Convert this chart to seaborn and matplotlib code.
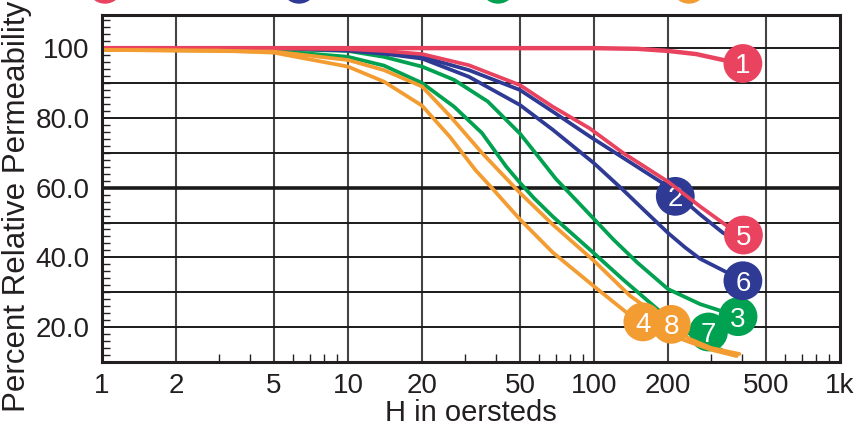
import numpy as np
import pandas as pd
import matplotlib
matplotlib.use("Agg")
import matplotlib.pyplot as plt
from matplotlib.ticker import FixedLocator, LogLocator, MultipleLocator, NullFormatter
from matplotlib.patches import Ellipse
import seaborn as sns

# ---------------- data ----------------
h1 = [1, 100, 150, 200, 260, 335, 400]
y1 = [100, 100, 99.8, 99.2, 98.3, 96.6, 95.6]

h5 = [1, 5, 10, 14, 20, 31, 50, 68, 96, 131, 200, 270, 340, 400]
y5 = [100, 100, 99.7, 99.2, 98.3, 95.1, 89.4, 83.2, 77, 70, 61.7, 54.6, 49.5, 46]

h2 = [1, 5, 10, 14, 20, 31, 50, 68, 96, 131, 200, 270, 335, 380]
y2 = [100, 100, 99.5, 98.7, 97.5, 93.7, 88, 81.8, 74.7, 68.6, 60.3, 52.3, 47, 45]

h6 = [1, 5, 10, 14, 20, 31, 50, 68, 100, 131, 160, 200, 235, 270, 347, 400]
y6 = [100, 100, 99.3, 98.4, 97, 91.8, 83.7, 76.6, 67, 59.4, 53.5, 47, 42.8, 39.6, 35.7, 33.3]

h3 = [1, 5, 10, 14, 20, 27, 37, 50, 60, 70, 100, 120, 150, 200, 270, 330, 385]
y3 = [100, 99.8, 99.2, 97.5, 94.7, 90.9, 84.7, 75.5, 68.5, 62.5, 51, 45.1, 38.5, 30.9, 26.6, 24.6, 23]

h7 = [1, 5, 10, 14, 20, 27, 35, 44, 50, 57, 68, 96, 131, 185, 240, 300, 330]
y7 = [99.5, 99.3, 97.5, 95, 90, 83.2, 75.7, 66, 61.4, 57, 51.7, 42.3, 33.7, 24.6, 18.5, 14.5, 13.5]

h8 = [1, 5, 10, 14, 20, 26, 35, 50, 68, 100, 140, 180, 207, 245, 300, 390]
y8 = [99.5, 99, 96.6, 93.7, 89, 80.5, 70, 58.5, 49.4, 39, 29, 23.5, 20.3, 16.6, 14, 12.3]

h4 = [1, 3, 5, 10, 14, 20, 26, 33, 38, 50, 68, 100, 135, 160, 200, 245, 300, 380]
y4 = [99.5, 99.3, 98.7, 94.7, 90.4, 83.5, 74.5, 65, 60.3, 50.9, 41.4, 31.7, 24.3, 21, 18, 15.7, 13.5, 11.7]

labels = ["1", "2", "3", "4", "5", "6", "7", "8"]
label_h = [403, 214, 385, 158, 405, 403, 292, 206]
label_y = [95.6, 57.5, 23.0, 21.5, 46.4, 33.3, 18.6, 20.8]

x_ticks = [1, 2, 5, 10, 20, 50, 100, 200, 500, 1000]
x_ticklabels = ["1", "2", "5", "10", "20", "50", "100", "200", "500", "1k"]
y_ticks = [20, 40, 60, 80, 100]
y_ticklabels = ["20.0", "40.0", "60.0", "80.0", "100"]

RED, BLUE, GREEN, ORANGE = "#E9435F", "#2E3A94", "#00A150", "#F39C32"
curve_color = {"1": RED, "5": RED, "2": BLUE, "6": BLUE,
               "3": GREEN, "7": GREEN, "4": ORANGE, "8": ORANGE}

curves = {"1": (h1, y1), "2": (h2, y2), "3": (h3, y3), "4": (h4, y4),
          "5": (h5, y5), "6": (h6, y6), "7": (h7, y7), "8": (h8, y8)}

frames = []
for k, (hh, yy) in curves.items():
    frames.append(pd.DataFrame({"H": hh, "P": yy, "curve": k}))
df = pd.concat(frames, ignore_index=True)

# ---------------- style ----------------
sns.set_theme(style="white")
plt.rcParams["font.family"] = ["Liberation Sans", "DejaVu Sans"]

W, H = 863, 426
fig = plt.figure(figsize=(W / 100, H / 100), dpi=100)
ax = fig.add_axes([102 / W, 1 - 362 / H, (840 - 102) / W, (362 - 15) / H])

ax.set_xscale("log")
ax.set_xlim(1, 1000)
ax.set_ylim(10, 109.5)

# grid
for xv in x_ticks[1:-1]:
    ax.axvline(xv, color="#444444", lw=1.5, zorder=1)
for yv in range(20, 110, 10):
    ax.axhline(yv, color="#1a1a1a", lw=2.6 if yv == 60 else 1.4, zorder=1)

def draw(keys, z, lw=2.7):
    sub = df[df["curve"].isin(keys)]
    sns.lineplot(data=sub, x="H", y="P", hue="curve", units="curve",
                 estimator=None, sort=False, palette=curve_color,
                 linewidth=lw, legend=False, ax=ax, zorder=z)

def mark(k, z):
    i = labels.index(k)
    ax.scatter([label_h[i]], [label_y[i]], s=780, color=curve_color[k],
               edgecolors="none", zorder=z)
    ax.text(label_h[i], label_y[i], k, color="white", fontsize=20,
            ha="center", va="center_baseline", zorder=z + 0.1)

draw(["3", "7", "2", "6"], 2)
mark("2", 3)
draw(["5"], 3.5)
draw(["1"], 3.6, lw=3.2)
mark("7", 4)
mark("3", 4.2)
draw(["4", "8"], 4.5)
mark("4", 5)
mark("8", 5.2)
mark("6", 5.4)
mark("5", 5.6)
mark("1", 5.8)

# ticks
ax.xaxis.set_major_locator(FixedLocator(x_ticks))
ax.set_xticklabels(x_ticklabels)
ax.xaxis.set_minor_locator(LogLocator(base=10, subs=[3, 4, 6, 7, 8, 9]))
ax.xaxis.set_minor_formatter(NullFormatter())
ax.yaxis.set_major_locator(FixedLocator(y_ticks))
ax.set_yticklabels(y_ticklabels)
ax.yaxis.set_minor_locator(MultipleLocator(2))
ax.tick_params(axis="both", which="major", length=0, labelsize=20,
               labelcolor="#231f20")
ax.tick_params(axis="x", which="major", pad=8)
ax.tick_params(axis="y", which="major", pad=9)
ax.tick_params(axis="x", which="minor", direction="in", length=6, width=1.0,
               color="#222222", bottom=True)
ax.tick_params(axis="y", which="minor", direction="in", length=6, width=1.0,
               color="#222222", left=True)

for s in ax.spines.values():
    s.set_visible(True)
    s.set_color("#231f20")
    s.set_linewidth(2.2)
    s.set_zorder(6)

ax.set_xlabel("H in oersteds", fontsize=21, color="#231f20", labelpad=0)
ax.set_ylabel("")
fig.text(17 / W, 1 - 206 / H, "Percent Relative Permeability", fontsize=22.5,
         color="#231f20", rotation=90, ha="center", va="center")
ax.grid(False)

# cut-off legend dots at the very top of the figure
for cx, col in zip([105, 299, 498, 689], [RED, BLUE, GREEN, ORANGE]):
    fig.add_artist(Ellipse((cx / 100, (H + 14) / 100), 0.34, 0.34,
                           transform=fig.dpi_scale_trans, color=col,
                           clip_on=False))

fig.savefig("out.png", dpi=100)
